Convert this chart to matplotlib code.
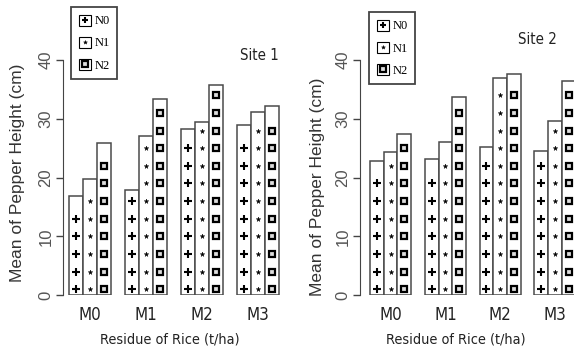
import numpy as np
import matplotlib.pyplot as plt
from matplotlib import font_manager as fm
from matplotlib.patches import Rectangle
from matplotlib.lines import Line2D

groups = ['M0', 'M1', 'M2', 'M3']
levels = ['N0', 'N1', 'N2']

site1_n0 = [16.9, 17.8, 28.3, 28.9]
site1_n1 = [19.8, 27.0, 29.5, 31.1]
site1_n2 = [25.9, 33.3, 35.7, 32.1]

site2_n0 = [22.8, 23.1, 25.2, 24.5]
site2_n1 = [24.3, 26.0, 36.9, 29.7]
site2_n2 = [27.4, 33.7, 37.6, 36.5]

yticks = [0, 10, 20, 30, 40]

W, H = 574, 353
fig = plt.figure(figsize=(W / 100, H / 100), dpi=100)

sans = ['Liberation Sans', 'DejaVu Sans']
serif = ['Liberation Serif', 'DejaVu Serif']

# narrow face for the squeezed labels, if one is around
names = {f.name for f in fm.fontManager.ttflist}
if 'Liberation Sans Narrow' in names:
    narrow = dict(family=['Liberation Sans Narrow', 'DejaVu Sans'])
    nscale = 1.0
elif any(f.name == 'DejaVu Sans' and f.stretch == 'condensed' for f in fm.fontManager.ttflist):
    narrow = dict(family='DejaVu Sans', stretch='condensed')
    nscale = 0.9
else:
    narrow = dict(family=sans)
    nscale = 0.88

mstyle = {
    'N0': dict(marker='+', ms=5.5, mew=1.5, color='black'),
    'N1': dict(marker='*', ms=3.5, mew=0.3, color='black'),
    'N2': dict(marker='s', ms=4.5, mew=1.6, mfc='#dddddd', mec='black'),
}


def px(x0, y0, x1, y1):
    return [x0 / W, (H - y1) / H, (x1 - x0) / W, (y1 - y0) / H]


def panel(rect, xlim, data, title, title_xy, leg_xy, xlab_x, ylab_xy):
    ax = fig.add_axes(rect)
    ax.set_xlim(*xlim)
    ax.set_ylim(0, 40)
    bw = 0.25
    x = np.arange(len(groups))
    for k, (lev, vals) in enumerate(zip(levels, data)):
        xs = x + (k - 1) * bw
        ax.bar(xs, vals, width=bw, color='white', edgecolor='#4a4a4a',
               linewidth=1.1)
        for xi, h in zip(xs, vals):
            ys = np.arange(1, h - 1.2, 3.0)
            ax.plot(np.full(len(ys), xi), ys, ls='none', **mstyle[lev])

    for s in ['top', 'right', 'bottom']:
        ax.spines[s].set_visible(False)
    ax.spines['left'].set_bounds(0, 40)
    ax.spines['left'].set_color('#444444')
    ax.set_yticks(yticks)
    ax.set_yticklabels([str(t) for t in yticks], rotation=90, va='center',
                       color='#555555', fontsize=12, family=sans)
    ax.tick_params(axis='y', length=5, width=1, color='#444444', pad=2)
    ax.set_xticks(x)
    ax.set_xticklabels(groups, fontsize=13.5 * nscale, color='#222222', **narrow)
    ax.tick_params(axis='x', length=0, pad=8)

    ax.set_xlabel('Residue of Rice (t/ha)', fontsize=11.5 * nscale,
                  color='#222222', **narrow)
    ax.xaxis.set_label_coords(xlab_x, -0.16)
    ax.set_ylabel('Mean of Pepper Height (cm)', fontsize=12.5, family=sans,
                  color='#333333')
    ax.yaxis.set_label_coords(*ylab_xy)

    fig.text(title_xy[0] / W, 1 - title_xy[1] / H, title, fontsize=12 * nscale,
             color='#222222', ha='center', va='center', **narrow)

    handles = [(Rectangle((0, 0), 1, 1, fc='white', ec='black', lw=0.8),
                Line2D([], [], ls='none', **dict(mstyle[lev], ms=mstyle[lev]['ms'] * 0.85)))
               for lev in levels]
    leg = ax.legend(handles, levels, loc='upper left',
                    bbox_to_anchor=(leg_xy[0] / W, 1 - leg_xy[1] / H),
                    bbox_transform=fig.transFigure, borderaxespad=0,
                    prop={'family': serif, 'size': 9}, handlelength=0.95,
                    handleheight=0.95, handletextpad=0.3, labelspacing=0.75,
                    borderpad=0.62, fancybox=False, framealpha=1)
    leg.get_frame().set_edgecolor('#444444')
    leg.get_frame().set_linewidth(1.3)
    return ax


panel(px(63, 60, 285, 295), (-0.48, 3.48),
      [site1_n0, site1_n1, site1_n2], 'Site 1', (259, 55), (71, 7),
      0.48, (-0.172, 0.52))

panel(px(360, 60, 574, 295), (-0.56, 3.35),
      [site2_n0, site2_n1, site2_n2], 'Site 2', (537, 40), (369, 12),
      0.45, (-0.165, 0.46))

fig.savefig('out.png', dpi=100)
